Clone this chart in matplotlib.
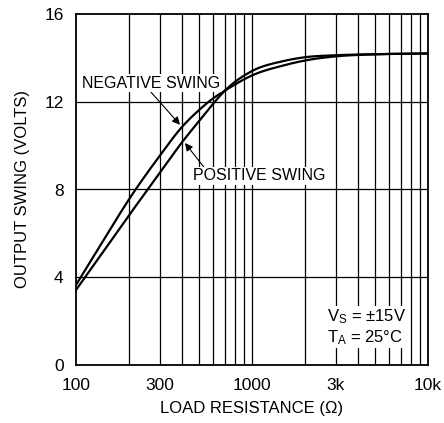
import matplotlib.pyplot as plt
import numpy as np

plt.rcParams['font.family'] = ['Liberation Sans', 'DejaVu Sans']

# load resistance (ohms) and output swing (volts)
r_load = [100, 150, 200, 300, 400, 500, 600, 700, 1000, 1500, 2000, 3000, 5000, 10000]
neg_swing = [3.65, 5.95, 7.55, 9.55, 10.85, 11.62, 12.15, 12.5, 13.2, 13.65, 13.88, 14.07, 14.16, 14.2]
pos_swing = [3.42, 5.41, 6.82, 8.77, 10.15, 11.12, 11.9, 12.5, 13.4, 13.85, 14.03, 14.12, 14.17, 14.2]

xticks = [100, 300, 1000, 3000, 10000]
xtick_labels = ['100', '300', '1000', '3k', '10k']
yticks = [0, 4, 8, 12, 16]


def hermite(x, y, xn):
    # cubic Hermite curve through the read points, slopes from neighbours
    x = np.asarray(x, float)
    y = np.asarray(y, float)
    h = np.diff(x)
    d = np.diff(y) / h
    m = np.zeros_like(y)
    m[0], m[-1] = d[0], d[-1]
    for i in range(1, len(x) - 1):
        m[i] = (h[i] * d[i - 1] + h[i - 1] * d[i]) / (h[i - 1] + h[i])
    idx = np.clip(np.searchsorted(x, xn) - 1, 0, len(x) - 2)
    t = (xn - x[idx]) / h[idx]
    h00 = 2 * t**3 - 3 * t**2 + 1
    h10 = t**3 - 2 * t**2 + t
    h01 = -2 * t**3 + 3 * t**2
    h11 = t**3 - t**2
    return h00 * y[idx] + h10 * h[idx] * m[idx] + h01 * y[idx + 1] + h11 * h[idx] * m[idx + 1]


fig = plt.figure(figsize=(4.44, 4.23), dpi=100)
ax = fig.add_axes([76/444, 1 - 365/423, 352/444, 351/423])

lx = np.log10(r_load)
lxs = np.linspace(2, 4, 400)
xs = 10 ** lxs
ax.plot(xs, hermite(lx, neg_swing, lxs), color='black', lw=1.6, zorder=3)
ax.plot(xs, hermite(lx, pos_swing, lxs), color='black', lw=1.6, zorder=3)

ax.set_xscale('log')
ax.set_xlim(100, 10000)
ax.set_ylim(0, 16)

grid_x = [v * d for d in (100, 1000) for v in range(2, 10)] + [1000]
for gx in grid_x:
    ax.axvline(gx, color='black', lw=0.9, zorder=1)
for gy in [4, 8, 12]:
    ax.axhline(gy, color='black', lw=0.9, zorder=1)

ax.set_xticks(xticks)
ax.set_xticklabels(xtick_labels)
ax.xaxis.set_minor_locator(plt.NullLocator())
ax.set_yticks(yticks)
ax.tick_params(length=0, labelsize=12.5)
ax.tick_params(axis='x', pad=9)
ax.tick_params(axis='y', pad=9)
for s in ax.spines.values():
    s.set_linewidth(1.3)

ax.set_xlabel('LOAD RESISTANCE (Ω)', fontsize=12, labelpad=6)
ax.set_ylabel('OUTPUT SWING (VOLTS)', fontsize=12, labelpad=10)

box = dict(facecolor='white', edgecolor='none', pad=1)
ax.annotate('NEGATIVE SWING', xy=(390, 10.95), xytext=(108, 12.85),
            fontsize=11.5, bbox=box, zorder=4, ha='left', va='center',
            arrowprops=dict(arrowstyle='-|>', color='black', lw=0.8,
                            shrinkA=0, shrinkB=0, relpos=(0.49, 0)))
ax.annotate('POSITIVE SWING', xy=(416, 10.12), xytext=(462, 8.62),
            fontsize=11.5, bbox=box, zorder=4, ha='left', va='center',
            arrowprops=dict(arrowstyle='-|>', color='black', lw=0.8,
                            shrinkA=0, shrinkB=0, relpos=(0.09, 1)))

ax.text(2667, 1.73, '$\\mathregular{V_S}$ = ±15V\n$\\mathregular{T_A}$ = 25°C',
        fontsize=12, bbox=box, zorder=4, va='center', linespacing=1.15)

fig.savefig('out.png', dpi=100)
